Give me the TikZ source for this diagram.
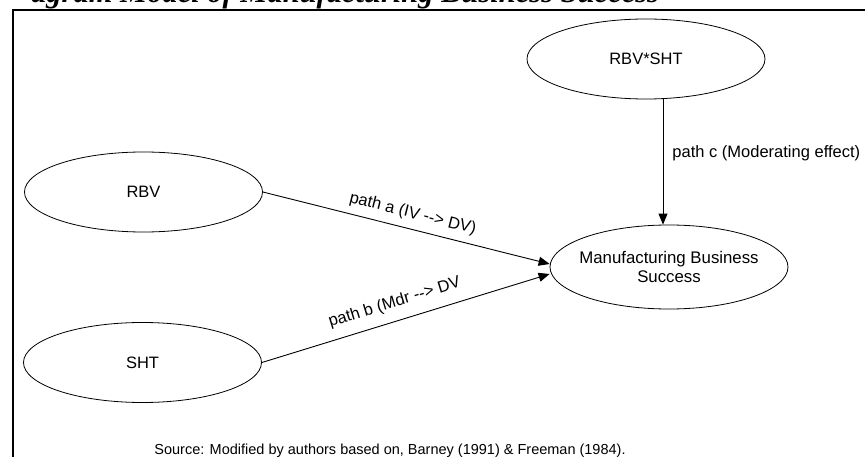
\documentclass[tikz,border=0pt]{standalone}
\usepackage{fontspec}
\setmainfont{Liberation Sans}
\newfontfamily\titlefont{Liberation Serif}
\usetikzlibrary{arrows.meta,shapes.geometric,calc}
\begin{document}
\begin{tikzpicture}[x=1pt,y=-1pt,
  var/.style={draw,ellipse,line width=0.8pt,minimum width=238pt,minimum height=80pt,inner sep=0pt,
    font=\fontsize{16.5}{19.5}\selectfont,align=center},
  txt/.style={font=\fontsize{16.8}{19.5}\selectfont,align=center,inner sep=0pt},
  link/.style={draw,line width=0.9pt,-{Triangle[length=11pt,width=9pt]}},
  lbl/.style={font=\fontsize{16.5}{19.5}\selectfont,inner sep=0pt}]
\useasboundingbox (0,0) rectangle (865,457);
% title, clipped by the top edge of the picture
\node[anchor=base west,inner sep=0pt,font=\titlefont\bfseries\itshape\fontsize{30.5}{32}\selectfont] (title) at (31,3) {agram Model of Manufacturing Business Success};
% frame
\draw[line width=2.5pt] (13,470) -- (13,10) -- (880,10);
% variables
\node[var] (rbvsht) at (646,59) {RBV*SHT};
\node[var] (rbv) at (143.5,192) {RBV};
\node[var] (sht) at (142.5,362.5) {SHT};
\node[var,minimum height=84pt] (mbs) at (669,267) {};
\node[txt] (mbstext) at (mbs.center) {Manufacturing Business\\Success};
% connector end points
\coordinate (cx) at (663,0);
\coordinate (ina) at ($(mbs.west)+(0,-3)$);
\coordinate (inb) at ($(mbs.west)+(0,7)$);
% paths
\draw[link] (rbv.east) -- (ina) node[lbl,sloped,above=7pt,pos=0.51] (la) {path a (IV \mbox{-}\mbox{-}> DV)};
\draw[link] (sht.east) -- (inb) node[lbl,sloped,above=10pt,pos=0.48] (lb) {path b (Mdr \mbox{-}\mbox{-}> DV};
\draw[link] (rbvsht.south -| cx) -- (mbs.north -| cx) node[lbl,anchor=west,pos=0.43,xshift=9pt] (lc) {path c (Moderating effect)};
% source
\node[font=\fontsize{14.5}{17}\selectfont,inner sep=0pt] (src) at (390,451) {Source: Modified by authors based on, Barney (1991) \& Freeman (1984).};
\end{tikzpicture}
\end{document}
